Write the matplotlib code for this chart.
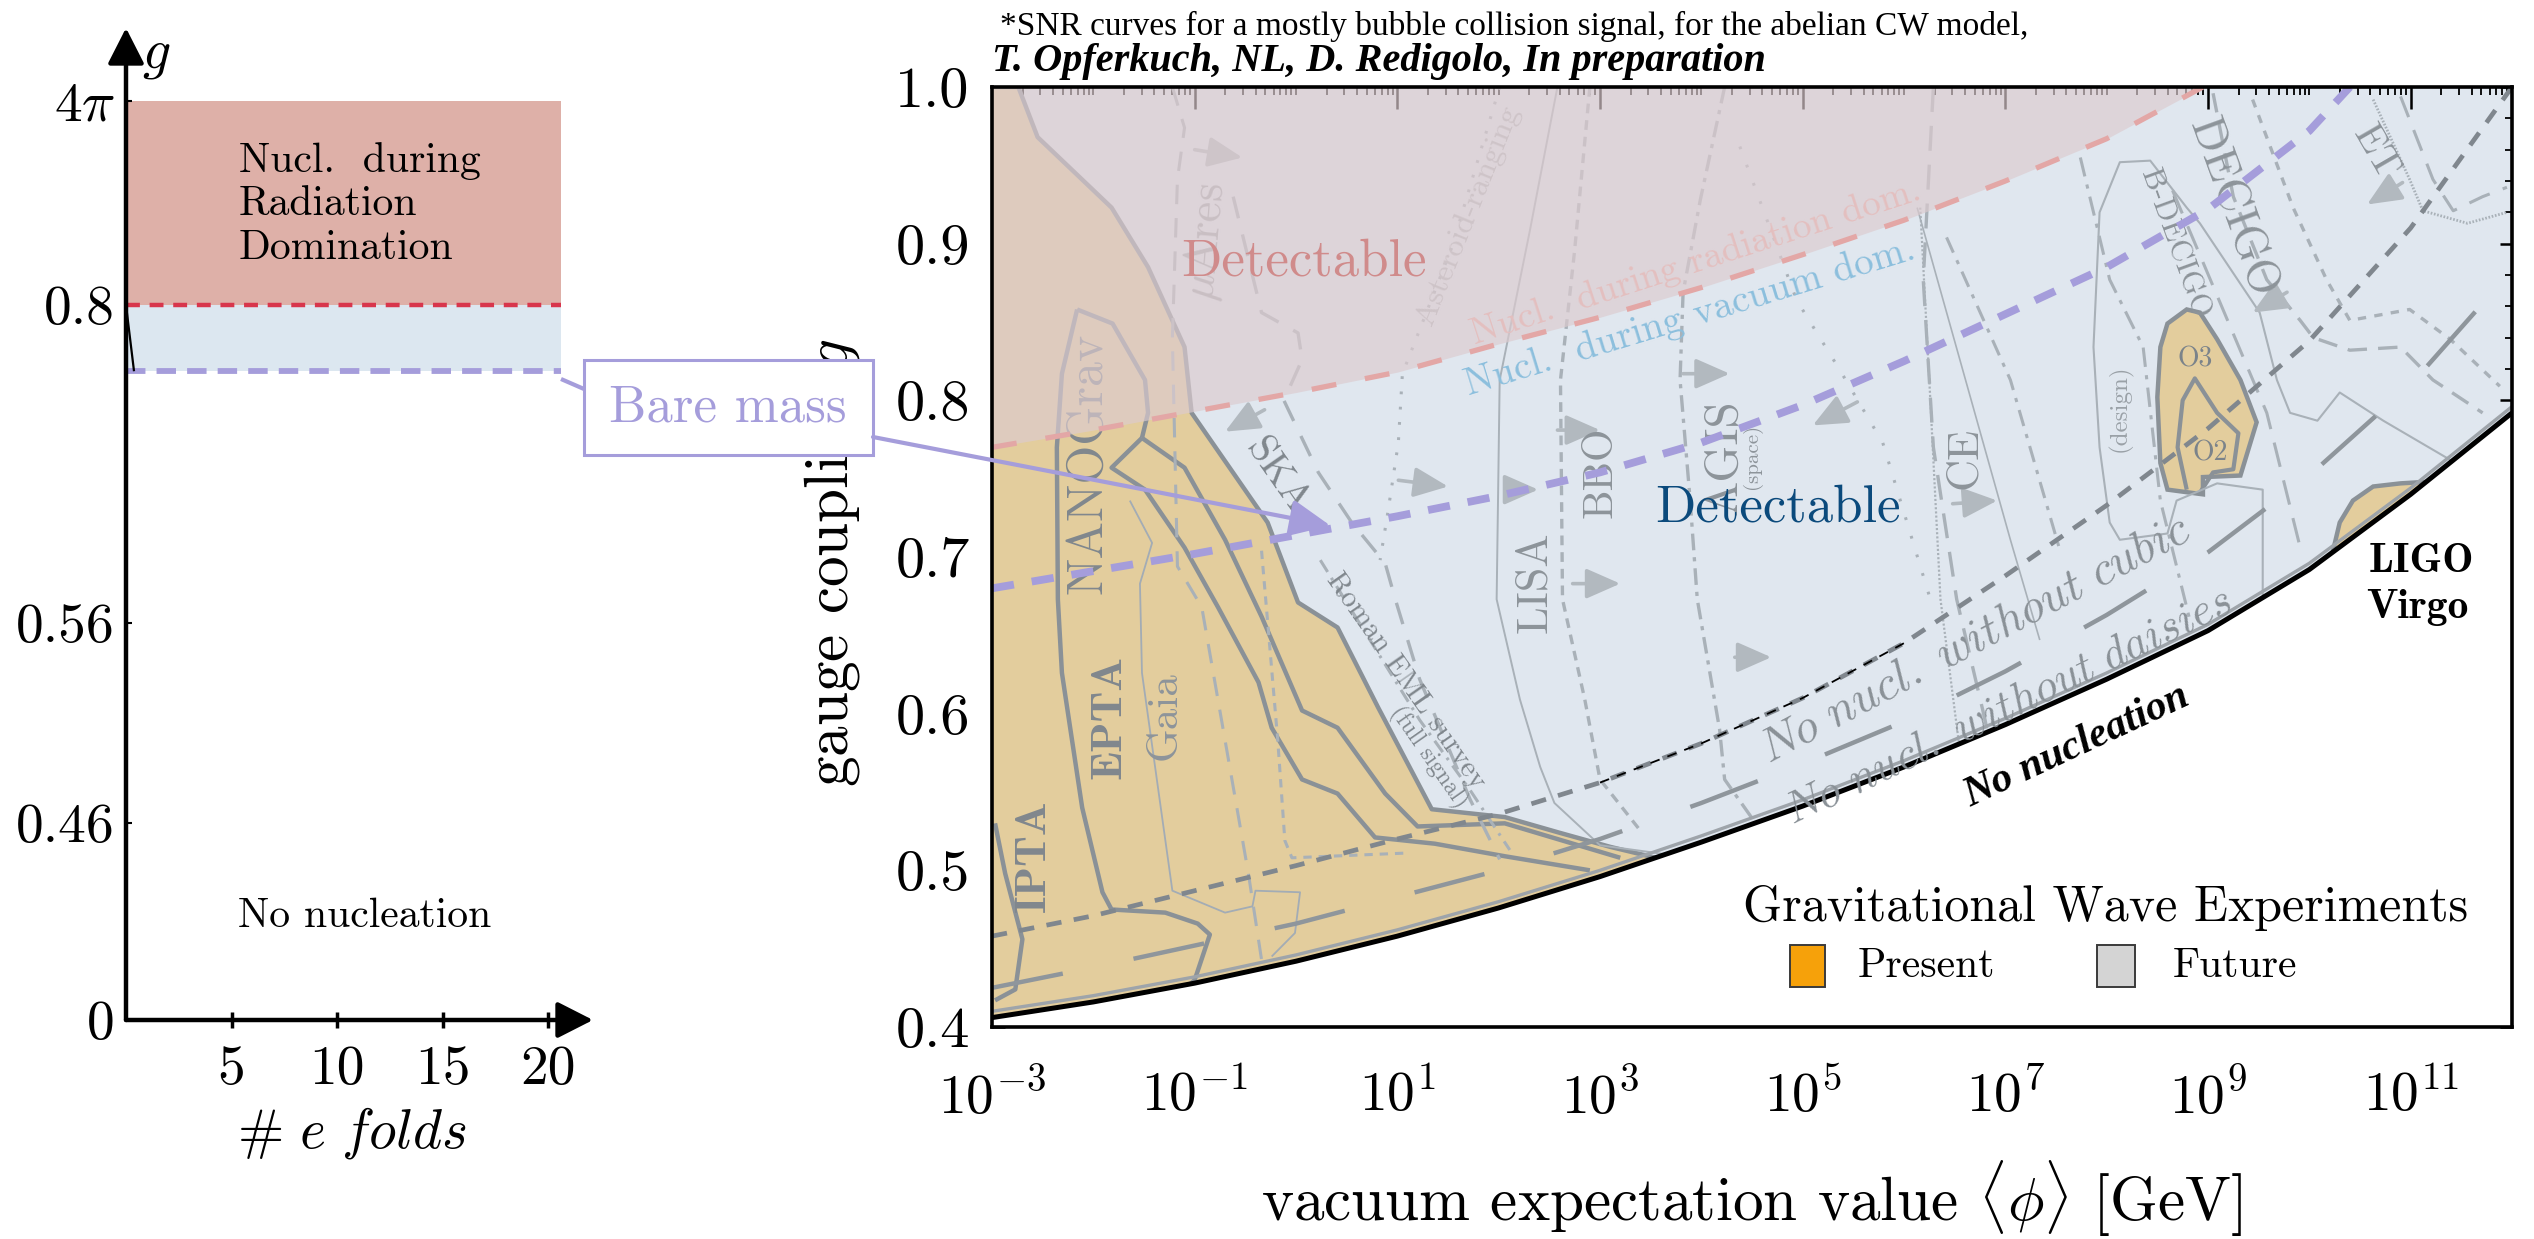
import numpy as np
import matplotlib
matplotlib.use("Agg")
import matplotlib.pyplot as plt
from matplotlib.patches import Polygon, Rectangle, ConnectionPatch
from matplotlib.lines import Line2D
from matplotlib.ticker import NullFormatter

plt.rcParams['mathtext.fontset'] = 'cm'
plt.rcParams['font.family'] = ['cmr10', 'DejaVu Serif']
plt.rcParams['axes.unicode_minus'] = False
plt.rcParams['lines.scale_dashes'] = False
plt.rcParams['lines.solid_capstyle'] = 'butt'
plt.rcParams['lines.dash_capstyle'] = 'butt'

# ---------------- left panel: schematic coupling vs number of e-folds
efold_ticks = [5, 10, 15, 20]
g_ticks_left = [0.0, 0.46, 0.56, 0.8, 4 * np.pi]
g_ticklabels_left = ['0', '0.46', '0.56', '0.8', r'$4\pi$']
efold_band_end = 20.6
g_radiation = 0.8
g_bare_left = 0.75
g_pert = 4 * np.pi

# ---------------- right panel: log10(<phi>/GeV) and gauge coupling g
lvev = [-3, -2, -1, 0, 1, 2, 3, 4, 5, 6, 7, 8, 9, 10, 11, 12]
g_no_nucl = [0.406, 0.416, 0.428, 0.442, 0.458, 0.476, 0.496, 0.518,
             0.541, 0.566, 0.593, 0.622, 0.653, 0.692, 0.740, 0.792]
g_no_cubic = [0.458, 0.471, 0.487, 0.503, 0.520, 0.536, 0.556, 0.581,
              0.610, 0.645, 0.688, 0.733, 0.782, 0.838, 0.910, 1.0]
g_no_daisies = [0.425, 0.438, 0.452, 0.466, 0.483, 0.500, 0.520, 0.543,
                0.568, 0.595, 0.627, 0.663, 0.703, 0.752, 0.810, 0.883]

rad_lvev = [-3, -2, -1, 0, 1, 2, 3, 4, 5, 6, 7, 8, 8.95]
rad_g = [0.770, 0.781, 0.793, 0.805, 0.818, 0.836, 0.853, 0.872, 0.893,
         0.915, 0.940, 0.967, 1.0]

bare_lvev = [-3, -2, -1, 0, 1, 2, 3, 4, 5, 6, 7, 8, 9, 10, 10.4]
bare_g = [0.680, 0.691, 0.702, 0.714, 0.726, 0.739, 0.754, 0.773, 0.797,
          0.825, 0.855, 0.885, 0.922, 0.972, 1.0]

# present experiments (filled)
pta_edge_lvev = [-3.0, -2.74, -2.55, -1.82, -1.46, -1.10, -1.03, -0.28, 0.02,
                 0.41, 0.81, 1.34, 2.06, 2.6, 3.1, 3.55]
pta_edge_g = [1.0, 1.0, 0.968, 0.923, 0.885, 0.834, 0.792, 0.722, 0.671,
              0.655, 0.604, 0.539, 0.534, 0.524, 0.515, 0.508]
ligo_o3_lvev = [8.79, 8.60, 8.53, 8.50, 8.53, 8.60, 8.95, 8.95, 9.32, 9.48,
                9.32, 9.09, 8.92]
ligo_o3_g = [0.858, 0.849, 0.834, 0.802, 0.760, 0.743, 0.740, 0.751, 0.752,
             0.786, 0.813, 0.839, 0.856]
ligo_o2_lvev = [8.79, 8.70, 8.75, 8.87, 9.09, 9.30, 9.25, 9.05, 8.92]
ligo_o2_g = [0.743, 0.770, 0.800, 0.814, 0.792, 0.779, 0.756, 0.754, 0.741]
lv_lvev = [10.23, 10.30, 10.43, 10.63, 10.90, 11.16, 11.0, 10.6]
lv_g = [0.703, 0.722, 0.736, 0.745, 0.747, 0.748, 0.740, 0.719]

# outlines of present PTA curves
nano_a_lvev = [-2.16, -2.31, -2.36, -2.35, -2.31, -2.11, -1.91, -1.82, -1.29,
               -0.97, -0.85, -1.00, -1.22]
nano_a_g = [0.858, 0.817, 0.770, 0.673, 0.626, 0.540, 0.486, 0.475, 0.473,
            0.466, 0.459, 0.430, 0.417]
nano_b_lvev = [-2.16, -1.81, -1.49, -1.46, -1.52]
nano_b_g = [0.858, 0.849, 0.813, 0.792, 0.776]
epta_lvev = [-1.52, -1.82, -1.49, -1.10, -0.77, -0.37, -0.24, 0.06, 0.41,
             0.78, 1.37, 2.06, 2.9]
epta_g = [0.776, 0.757, 0.743, 0.706, 0.668, 0.620, 0.591, 0.558, 0.549,
          0.521, 0.517, 0.509, 0.500]
nano_c_lvev = [-1.52, -1.10, -0.70, -0.34, 0.06, 0.41, 0.88, 1.20, 2.06, 3.2]
nano_c_g = [0.776, 0.757, 0.711, 0.662, 0.602, 0.591, 0.549, 0.528, 0.530,
            0.508]
ipta_lvev = [-2.97, -2.87, -2.70, -2.77, -2.97]
ipta_g = [0.530, 0.498, 0.456, 0.424, 0.417]
gaia_lvev = [-1.64, -1.42, -1.54, -1.52, -1.22, -0.70, -0.43, -0.40, 0.04,
             -0.01, -0.24]
gaia_g = [0.736, 0.709, 0.683, 0.626, 0.487, 0.473, 0.477, 0.487, 0.486,
          0.460, 0.445]

# future experiment curves
future_curves = {
    'mu_ares': ([-1.22, -1.10, -1.17, -1.22, -1.17, -0.93, -0.70, -0.47, -0.34],
                [1.0, 0.974, 0.941, 0.840, 0.694, 0.668, 0.583, 0.498, 0.443]),
    'ska': ([-0.62, -0.34, 0.02, 0.06, -0.12, 0.22, 0.55, 0.88, 0.98, 1.22,
             1.72, 2.01],
            [0.93, 0.856, 0.843, 0.826, 0.800, 0.754, 0.722, 0.696, 0.673,
             0.622, 0.545, 0.507]),
    'roman': ([0.24, 0.73, 1.22, 1.72, 2.11], [0.698, 0.647, 0.596, 0.551, 0.513]),
    'asteroid': ([2.01, 1.54, 1.22, 1.05, 1.01, 0.91, 0.83],
                 [1.0, 0.898, 0.845, 0.817, 0.773, 0.730, 0.698]),
    'pta_short': ([-0.34, -0.18, -0.11, -0.04, 1.08],
                  [0.704, 0.583, 0.519, 0.508, 0.511]),
    'lisa': ([2.58, 2.31, 2.01, 1.98, 2.21, 2.41, 2.55, 3.0, 3.79],
             [1.0, 0.909, 0.813, 0.673, 0.609, 0.566, 0.543, 0.516, 0.509]),
    'bbo': ([2.90, 2.75, 2.61, 2.63, 2.85, 3.0, 3.39],
            [1.0, 0.896, 0.813, 0.673, 0.609, 0.558, 0.526]),
    'agis': ([4.23, 3.99, 3.82, 3.79, 3.89, 3.96, 4.18, 4.23, 4.58],
             [1.0, 0.928, 0.869, 0.813, 0.736, 0.673, 0.590, 0.558, 0.526]),
    'mid_dotted': ([4.38, 4.94, 5.37, 5.79, 6.03, 6.26],
                   [0.962, 0.864, 0.819, 0.773, 0.722, 0.673]),
    'ce': ([6.29, 6.19, 6.29, 6.52, 6.80, 6.95],
           [1.0, 0.877, 0.770, 0.673, 0.596, 0.545]),
    'ce_dotted': ([6.16, 6.26, 6.36, 6.55], [0.923, 0.800, 0.673, 0.577]),
    'ce_thin': ([6.13, 7.05, 7.34], [0.923, 0.711, 0.647]),
    'ce_dashdot': ([6.42, 7.05, 7.54], [0.904, 0.813, 0.704]),
    'design': ([9.54, 9.54, 9.09, 8.69, 8.60, 8.13, 8.03, 7.93, 7.87, 7.93,
                8.13, 8.43, 8.79, 8.92, 9.51, 9.68, 9.81, 10.08, 10.30, 10.73,
                11.39],
               [0.673, 0.743, 0.747, 0.736, 0.715, 0.711, 0.722, 0.770, 0.834,
                0.920, 0.952, 0.953, 0.923, 0.913, 0.856, 0.813, 0.792, 0.787,
                0.805, 0.787, 0.762]),
    'decigo': ([9.05, 9.25, 9.58, 9.91, 10.04, 10.40, 10.90, 11.22, 11.71],
               [0.996, 0.930, 0.877, 0.851, 0.840, 0.832, 0.834, 0.813, 0.792]),
    'decigo_short': ([9.44, 9.84, 10.17, 10.40, 10.99, 11.39, 11.88],
                     [0.992, 0.923, 0.877, 0.851, 0.858, 0.839, 0.809]),
    'bdecigo': ([7.74, 8.03, 8.36, 8.53, 8.82], [0.955, 0.877, 0.834, 0.736, 0.660]),
    'bdecigo_long': ([8.65, 9.58, 9.91], [0.934, 0.792, 0.706]),
    'et_dotted': ([10.63, 10.99, 11.12, 11.56, 11.95],
                  [0.992, 0.941, 0.921, 0.913, 0.920]),
    'et_long': ([10.90, 11.22, 11.42, 11.71, 11.95],
                [0.994, 0.941, 0.921, 0.930, 0.936]),
}
future_styles = {
    'mu_ares': dict(dashes=(14, 10), lw=2.2),
    'ska': dict(dashes=(16, 12), lw=2.4),
    'roman': dict(dashes=(10, 5, 2, 5), lw=2.2),
    'asteroid': dict(dashes=(2, 9), lw=2.2),
    'pta_short': dict(dashes=(6, 5), lw=2.2),
    'lisa': dict(dashes=(), lw=1.4),
    'bbo': dict(dashes=(7, 5), lw=2.4),
    'agis': dict(dashes=(12, 5, 3, 5), lw=2.4),
    'mid_dotted': dict(dashes=(2, 12), lw=2.2),
    'ce': dict(dashes=(18, 10), lw=2.4),
    'ce_dotted': dict(dashes=(1.5, 1.5), lw=1.6),
    'ce_thin': dict(dashes=(), lw=1.2),
    'ce_dashdot': dict(dashes=(12, 6, 3, 6), lw=2.2),
    'design': dict(dashes=(), lw=1.5),
    'decigo': dict(dashes=(14, 8), lw=2.4),
    'decigo_short': dict(dashes=(6, 6), lw=2.4),
    'bdecigo': dict(dashes=(14, 6, 3, 6), lw=2.2),
    'bdecigo_long': dict(dashes=(18, 10), lw=2.2),
    'et_dotted': dict(dashes=(1.2, 1.2), lw=2.0),
    'et_long': dict(dashes=(16, 10), lw=2.2),
}
# direction arrows of the sensitivity curves: (tail lvev, tail g, head lvev, head g)
future_arrows = [(-0.31, 0.794, -0.70, 0.780), (1.01, 0.749, 1.50, 0.745),
                 (-1.0, 0.960, -0.53, 0.955), (2.58, 0.781, 3.0, 0.781),
                 (3.82, 0.817, 4.28, 0.817), (5.54, 0.799, 5.10, 0.784),
                 (6.48, 0.734, 6.92, 0.736), (2.73, 0.683, 3.20, 0.683),
                 (9.78, 0.869, 9.44, 0.856), (10.92, 0.939, 10.57, 0.925),
                 (2.12, 0.743, 2.39, 0.743), (4.33, 0.636, 4.69, 0.636)]

x_tick_exps = [-3, -1, 1, 3, 5, 7, 9, 11]
y_ticks = [0.4, 0.5, 0.6, 0.7, 0.8, 0.9, 1.0]
y_ticklabels = ['0.4', '0.5', '0.6', '0.7', '0.8', '0.9', '1.0']

# colours
c_blue = '#e0e7ef'
c_orange = '#e3cd9d'
c_pink = '#dccbcf'
c_gray = '#8a9197'
c_future = '#a9b1b8'
c_red = '#e3a7a6'
c_purple = '#a59ddb'

W, H = 2534, 1239
fig = plt.figure(figsize=(W / 100, H / 100), dpi=100)


def fx(p):
    return p / W


def fy(p):
    return 1 - p / H


def vev(lx):
    return 10.0 ** np.asarray(lx, dtype=float)


# ======================= left panel =======================
axL = fig.add_axes([fx(126), fy(1020), fx(593 - 126), (1020 - 28) / H])
g_knots = [0.0, 0.46, 0.56, 0.8, 4 * np.pi, 4 * np.pi + 2]
f_knots = [0.0, 0.1986, 0.4002, 0.7208, 0.9264, 1.0]
axL.set_yscale('function', functions=(lambda g: np.interp(g, g_knots, f_knots),
                                      lambda f: np.interp(f, f_knots, g_knots)))
axL.set_xlim(0, 467 / 21.1)
axL.set_ylim(0, g_knots[-1])
for s in axL.spines.values():
    s.set_visible(False)
axL.patch.set_alpha(0)

axL.fill_between([0, efold_band_end], g_radiation, g_pert, color='#deb0a8', lw=0)
axL.fill_between([0, efold_band_end], g_bare_left, g_radiation, color='#dce7f0', lw=0)
axL.plot([0, efold_band_end], [g_radiation] * 2, color='#d8364c', lw=3.2, dashes=(10, 7))
axL.plot([0, efold_band_end], [g_bare_left] * 2, color=c_purple, lw=4.2, dashes=(14, 8))
axL.plot([0, 0.38], [g_radiation, g_bare_left], color='k', lw=1.6)

arrow_kw = dict(arrowstyle='-|>,head_length=0.55,head_width=0.28', lw=3.2,
                color='k', mutation_scale=40, shrinkA=0, shrinkB=0)
axL.annotate('', xy=(0, 1), xycoords='axes fraction', xytext=(0, 0),
             textcoords='axes fraction', arrowprops=arrow_kw)
axL.annotate('', xy=(1, 0), xycoords='axes fraction', xytext=(0, 0),
             textcoords='axes fraction', arrowprops=arrow_kw)

axL.set_xticks(efold_ticks)
axL.set_xticklabels([str(t) for t in efold_ticks])
axL.tick_params(axis='x', direction='inout', length=12, width=2.5, labelsize=40, pad=12)
axL.set_yticks(g_ticks_left)
axL.set_yticklabels(g_ticklabels_left)
axL.tick_params(axis='y', direction='in', length=4, width=1.5, labelsize=40, pad=8)
axL.yaxis.set_minor_locator(plt.NullLocator())

axL.text(0.242, 0.885, 'Nucl.  during\nRadiation\nDomination', transform=axL.transAxes,
         fontsize=30, va='top', ha='left', linespacing=1.2)
axL.text(0.512, 0.105, 'No nucleation', transform=axL.transAxes, fontsize=30,
         ha='center', va='center')
fig.text(fx(156), fy(56), '$g$', fontsize=40, ha='center', va='center')
fig.text(fx(352), fy(1133), r'$\#\ e\ folds$', fontsize=40, ha='center', va='center')

# ======================= right panel =======================
axR = fig.add_axes([fx(992), fy(1027), fx(1520), 940 / H])
axR.set_xscale('log')
axR.set_xlim(1e-3, 1e12)
axR.set_ylim(0.4, 1.0)

# detectable region above the no-nucleation line
axR.fill_between(vev(lvev), g_no_nucl, 1.0, color=c_blue, lw=0, zorder=1)

# present experiments
pta_lx = np.concatenate([pta_edge_lvev, [l for l in lvev[::-1] if l <= 3]])
pta_gg = np.concatenate([pta_edge_g, [g for l, g in zip(lvev[::-1], g_no_nucl[::-1]) if l <= 3]])
axR.add_patch(Polygon(np.column_stack([vev(pta_lx), pta_gg]), closed=True,
                      facecolor=c_orange, edgecolor='none', zorder=2))
axR.plot(vev(pta_edge_lvev), pta_edge_g, color=c_gray, lw=3.2, zorder=3)
for lx_, g_ in [(ligo_o3_lvev, ligo_o3_g), (lv_lvev, lv_g)]:
    axR.add_patch(Polygon(np.column_stack([vev(lx_), g_]), closed=True,
                          facecolor=c_orange, edgecolor=c_gray, lw=3.2, zorder=2))
axR.plot(vev(ligo_o2_lvev), ligo_o2_g, color=c_gray, lw=3.0, zorder=3)

for lx_, g_ in [(nano_a_lvev, nano_a_g), (nano_b_lvev, nano_b_g),
                (epta_lvev, epta_g), (nano_c_lvev, nano_c_g), (ipta_lvev, ipta_g)]:
    axR.plot(vev(lx_), g_, color=c_gray, lw=3.2, zorder=3)
axR.plot(vev(gaia_lvev), gaia_g, color='#a3acb5', lw=1.3, zorder=3)

# future experiments
for name, (lx_, g_) in future_curves.items():
    st = future_styles[name]
    ln, = axR.plot(vev(lx_), g_, color=c_future, lw=st['lw'], zorder=3)
    if st['dashes']:
        ln.set_dashes(st['dashes'])
for (lx0, g0, lx1, g1) in future_arrows:
    axR.annotate('', xy=(10 ** lx1, g1), xytext=(10 ** lx0, g0),
                 arrowprops=dict(arrowstyle='-|>,head_length=0.5,head_width=0.22',
                                 color='#b2b9bf', lw=2.6, mutation_scale=42,
                                 shrinkA=0, shrinkB=0), zorder=3)

exp_labels = [
    ('NANOGrav', -2.05, 0.760, 90, 36, '#80878d', 'cmr10'),
    ('EPTA', -1.84, 0.598, 90, 32, '#80878d', 'cmb10'),
    ('IPTA', -2.58, 0.509, 90, 32, '#80878d', 'cmb10'),
    ('Gaia', -1.29, 0.599, 90, 31, '#8d949a', 'cmr10'),
    (r'$\mu$Ares', -0.88, 0.901, 85, 33, '#a3a8ad', 'cmr10'),
    ('Asteroid-ranging', 1.70, 0.918, 68, 23, '#b2b6ba', 'cmr10'),
    ('SKA', -0.19, 0.751, -55, 29, '#80878d', 'cmr10'),
    ('Roman EML survey', 1.08, 0.621, -55, 21, '#80878d', 'cmr10'),
    ('(full signal)', 1.30, 0.572, -55, 17, '#80878d', 'cmr10'),
    ('LISA', 2.36, 0.684, 90, 32, '#8d949a', 'cmr10'),
    ('BBO', 3.01, 0.754, 90, 30, '#8d949a', 'cmr10'),
    ('AGIS', 4.23, 0.764, 90, 34, '#8d949a', 'cmr10'),
    ('(space)', 4.50, 0.764, 90, 15, '#8d949a', 'cmr10'),
    ('CE', 6.60, 0.763, 90, 32, '#8d949a', 'cmr10'),
    ('DECIGO', 9.24, 0.923, -70, 33, '#8d949a', 'cmr10'),
    ('B-DECIGO', 8.67, 0.900, -70, 22, '#8d949a', 'cmr10'),
    ('ET', 10.65, 0.958, -60, 29, '#8d949a', 'cmr10'),
    ('(design)', 8.13, 0.795, 90, 18, '#9aa1a7', 'cmr10'),
    ('O3', 8.87, 0.826, 0, 20, '#7b838a', 'cmr10'),
    ('O2', 9.02, 0.766, 0, 20, '#7b838a', 'cmr10'),
]
for txt, lx_, g_, rot, fs, col, fam in exp_labels:
    axR.text(10 ** lx_, g_, txt, rotation=rot, fontsize=fs, color=col, family=fam,
             ha='center', va='center', rotation_mode='anchor', zorder=3.5)

# nucleation during radiation domination (overlay)
axR.fill_between(vev(rad_lvev), rad_g, 1.0, color=c_pink, alpha=0.67, lw=0, zorder=4)
axR.text(10 ** 3.95, 0.888, 'Nucl.  during radiation dom.', rotation=18, fontsize=27,
         color='#e4bfbf', ha='center', va='center', rotation_mode='anchor', zorder=4.5)

# no-nucleation variants
ln, = axR.plot(vev(lvev), g_no_daisies, color='#8f969c', lw=3.2, zorder=5)
ln.set_dashes((52, 52))
ln, = axR.plot(vev(lvev), g_no_cubic, color='#80878e', lw=3.4, zorder=5)
ln.set_dashes((11, 9))
ln, = axR.plot(vev(lvev[6:10]), g_no_cubic[6:10], color='k', lw=1.3, zorder=5.2)
ln.set_dashes((7, 6))

ln, = axR.plot(vev(rad_lvev), rad_g, color=c_red, lw=3.8, zorder=5.3)
ln.set_dashes((18, 21))
ln, = axR.plot(vev(bare_lvev), bare_g, color=c_purple, lw=5.6, zorder=5.4)
ln.set_dashes((16, 13))

# no nucleation region
axR.fill_between(vev(lvev), 0.39, g_no_nucl, color='white', lw=0, zorder=6)
axR.plot(vev(lvev), np.asarray(g_no_nucl) + 0.004, color='#9ea4aa', lw=2.4, zorder=6.5)
axR.plot(vev(lvev), g_no_nucl, color='k', lw=3.6, zorder=7)

# region annotations
axR.text(10 ** 0.08, 0.888, 'Detectable', fontsize=38, color='#d08b8b',
         ha='center', va='center', zorder=8)
axR.text(10 ** 4.76, 0.731, 'Detectable', fontsize=38, color='#0b4a7c',
         ha='center', va='center', zorder=8)
axR.text(10 ** 3.89, 0.853, 'Nucl.  during vacuum dom.', rotation=17, fontsize=28,
         color='#8cbfdd', ha='center', va='center', rotation_mode='anchor', zorder=8)
axR.text(10 ** 6.70, 0.647, r'$\mathit{No\ nucl.\ without\ cubic}$', rotation=28,
         fontsize=34, color='#8a9197', ha='center', va='center',
         rotation_mode='anchor', zorder=8)
axR.text(10 ** 7.03, 0.604, r'$\mathit{No\ nucl.\ without\ daisies}$', rotation=26,
         fontsize=32, color='#8a9197', ha='center', va='center',
         rotation_mode='anchor', zorder=8)
axR.text(10 ** 7.71, 0.579, 'No nucleation', rotation=25, fontsize=30,
         family='Liberation Serif', weight='bold', style='italic', color='k',
         ha='center', va='center', rotation_mode='anchor', zorder=8)
axR.text(10 ** 11.11, 0.697, 'LIGO', fontsize=30, family='cmb10', color='k',
         ha='center', va='center', zorder=8)
axR.text(10 ** 11.07, 0.668, 'Virgo', fontsize=30, family='cmb10', color='k',
         ha='center', va='center', zorder=8)

# ticks and frame
axR.set_xticks([10.0 ** e for e in x_tick_exps])
axR.set_xticklabels([r'$10^{%d}$' % e for e in x_tick_exps])
minor_x = [d * 10.0 ** k for k in range(-3, 12) for d in range(1, 10)
           if not (d == 1 and k in x_tick_exps)]
axR.set_xticks(minor_x, minor=True)
axR.xaxis.set_minor_formatter(NullFormatter())
axR.set_yticks(y_ticks)
axR.set_yticklabels(y_ticklabels)
axR.set_yticks(np.arange(0.42, 1.0, 0.02), minor=True)
axR.tick_params(axis='x', which='major', direction='in', length=16, width=1.8,
                top=True, labelsize=40, pad=30)
axR.tick_params(axis='x', which='minor', direction='in', length=6, width=1.3, top=True)
axR.tick_params(axis='y', which='major', direction='in', length=9, width=1.8,
                right=True, labelsize=42, pad=16)
axR.tick_params(axis='y', which='minor', direction='in', length=5, width=1.3, right=True)
for s in axR.spines.values():
    s.set_linewidth(2.6)
    s.set_zorder(9)

# legend
fig.text(fx(2106), fy(908), 'Gravitational Wave Experiments', fontsize=36,
         ha='center', va='center')
fig.add_artist(Rectangle((fx(1790), fy(987)), fx(35), 42 / H, transform=fig.transFigure,
                         facecolor='#f6a10a', edgecolor='#3a3a3a', lw=1.4))
fig.add_artist(Rectangle((fx(2097), fy(987)), fx(38), 42 / H, transform=fig.transFigure,
                         facecolor='#d4d4d4', edgecolor='#3a3a3a', lw=1.4))
fig.text(fx(1858), fy(966), 'Present', fontsize=30, ha='left', va='center')
fig.text(fx(2173), fy(966), 'Future', fontsize=30, ha='left', va='center')

# axis labels
fig.text(fx(832), fy(563), 'gauge coupling $g$', rotation=90, fontsize=44,
         ha='center', va='center')
fig.text(fx(1752), fy(1199), r'vacuum expectation value $\langle\phi\rangle$ [GeV]',
         fontsize=44, ha='center', va='center')

# header note
fig.text(fx(1000), fy(26), '*SNR curves for a mostly bubble collision signal, '
         'for the abelian CW model,', family='Liberation Serif', fontsize=24,
         ha='left', va='center')
fig.text(fx(992), fy(61), 'T. Opferkuch, NL, D. Redigolo, In preparation',
         family='Liberation Serif', weight='bold', style='italic', fontsize=29,
         ha='left', va='center')

# bare-mass callout linking both panels
fig.add_artist(Rectangle((fx(584), fy(455)), fx(873 - 584), (455 - 360) / H,
                         transform=fig.transFigure, facecolor='white',
                         edgecolor=c_purple, lw=2.2, zorder=5))
fig.text(fx(728), fy(408), 'Bare mass', color=c_purple, fontsize=38,
         ha='center', va='center', zorder=6)
fig.add_artist(Line2D([fx(561), fx(584)], [fy(379), fy(389)], transform=fig.transFigure,
                      color=c_purple, lw=3))
cp = ConnectionPatch(xyA=(fx(873), fy(437)), coordsA=fig.transFigure,
                     xyB=(10 ** 0.34, 0.72), coordsB=axR.transData,
                     arrowstyle='-|>,head_length=0.55,head_width=0.25',
                     mutation_scale=45, lw=3, color=c_purple, zorder=6,
                     shrinkA=0, shrinkB=0)
fig.add_artist(cp)

fig.savefig('out.png', dpi=100)
